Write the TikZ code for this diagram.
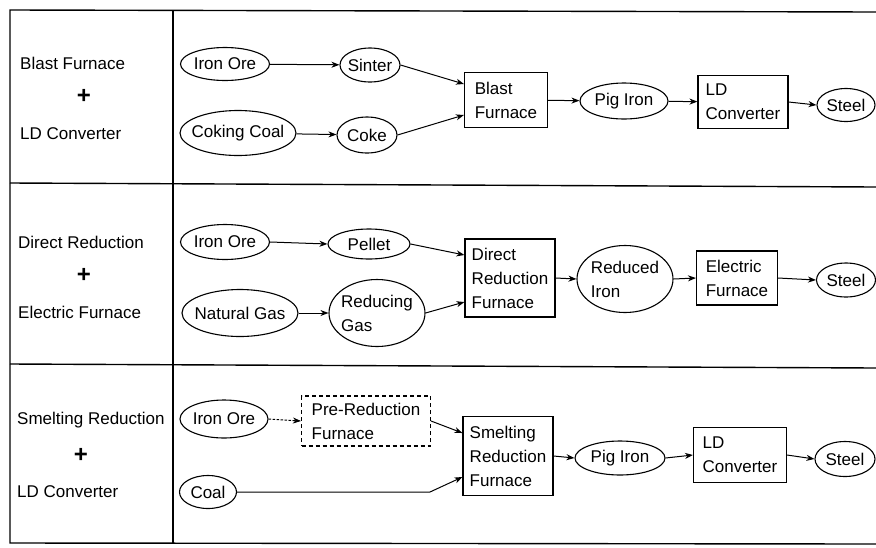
\documentclass[tikz,border=0pt]{standalone}
\usepackage{fontspec}
\setmainfont{Liberation Sans}
\usetikzlibrary{shapes.geometric,arrows.meta}
\begin{document}
\begin{tikzpicture}[x=1pt,y=-1pt,
  every node/.style={font=\fontsize{17}{24}\selectfont},
  ell/.style={ellipse,draw,line width=1.1pt,inner xsep=-8pt,inner ysep=-4pt,align=left},
  pbox/.style={rectangle,draw,line width=1.1pt,inner sep=0pt,align=left},
  dbox/.style={pbox,dashed,dash pattern=on 4pt off 3pt},
  lab/.style={anchor=west,inner sep=0pt},
  plus/.style={font=\fontsize{24}{24}\selectfont\bfseries},
  frame/.style={line width=1.4pt},
  flow/.style={line width=1pt,-{Stealth[length=8pt,width=6pt,inset=2.5pt]}},
  dflow/.style={flow,dash pattern=on 2.5pt off 1.5pt}]
\useasboundingbox (0,0) rectangle (876,547);
% frame
\coordinate (tl) at (10,10);
\coordinate (tr) at (876,12);
\coordinate (bl) at (10,543);
\coordinate (br) at (876,544);
\coordinate (dt) at (173,10);
\coordinate (db) at (173,543);
\draw[frame] (tr) -- (tl) -- (bl) -- (br);
\draw[frame] (dt) -- (db);
\coordinate (s1l) at (10,183);
\coordinate (s1r) at (876,187);
\coordinate (s2l) at (10,364);
\coordinate (s2r) at (876,368);
\draw[frame] (s1l) -- (s1r);
\draw[frame] (s2l) -- (s2r);
% left labels
\node[lab] (l1a) at (20,63) {Blast Furnace};
\node[plus] (l1b) at (84,96) {+};
\node[lab] (l1c) at (20,134) {LD Converter};
\node[lab] (l2a) at (18,242) {Direct Reduction};
\node[plus] (l2b) at (84,275) {+};
\node[lab] (l2c) at (18,312) {Electric Furnace};
\node[lab] (l3a) at (17,420) {Smelting Reduction};
\node[plus] (l3b) at (81,455) {+};
\node[lab] (l3c) at (17,492) {LD Converter};
% row 1
\node[ell,minimum width=89,minimum height=33] (io1) at (225,64) {Iron Ore};
\node[ell,minimum width=116,minimum height=45] (cc1) at (238,133) {Coking Coal};
\node[ell,minimum width=60,minimum height=34] (si1) at (370,65) {Sinter};
\node[ell,minimum width=60,minimum height=36] (co1) at (367,135) {Coke};
\node[pbox,minimum width=83,minimum height=55] (bf1) at (506,100) {Blast\\Furnace};
\node[ell,minimum width=88,minimum height=36] (pi1) at (624,101) {Pig Iron};
\node[pbox,minimum width=90,minimum height=53] (ld1) at (743,102) {LD\\Converter};
\node[ell,minimum width=58,minimum height=33] (st1) at (846,105) {Steel};
\draw[flow] (io1) -- (si1);
\draw[flow] (cc1) -- (co1);
\draw[flow] (si1.east) -- ([yshift=16pt]bf1.west);
\draw[flow] (co1.east) -- ([yshift=-15pt]bf1.west);
\draw[flow] (bf1) -- (pi1);
\draw[flow] (pi1) -- (ld1);
\draw[flow] (ld1.east) -- (st1.west);
% row 2
\node[ell,minimum width=89,minimum height=35] (io2) at (225,242) {Iron Ore};
\node[ell,minimum width=116,minimum height=47] (ng2) at (240,313) {Natural Gas};
\node[ell,minimum width=82,minimum height=30] (pe2) at (369,244) {Pellet};
\node[ell,minimum width=96,minimum height=67] (rg2) at (377,313) {Reducing\\Gas};
\node[pbox,minimum width=90,minimum height=78] (dr2) at (510,278) {Direct\\Reduction\\Furnace};
\node[ell,minimum width=96,minimum height=67] (ri2) at (625,279) {Reduced\\Iron};
\node[pbox,minimum width=81,minimum height=54] (ef2) at (737,278) {Electric\\Furnace};
\node[ell,minimum width=59,minimum height=34] (st2) at (846,280) {Steel};
\draw[flow] (io2.east) -- (pe2.west);
\draw[flow] (ng2.east) -- (rg2.west);
\draw[flow] (pe2.east) -- ([yshift=23pt]dr2.west);
\draw[flow] (rg2.east) -- ([yshift=-24pt]dr2.west);
\draw[flow] (dr2.east) -- (ri2.west);
\draw[flow] (ri2.east) -- (ef2.west);
\draw[flow] (ef2.east) -- (st2.west);
% row 3
\node[ell,minimum width=88,minimum height=38] (io3) at (224,419) {Iron Ore};
\node[ell,minimum width=57,minimum height=33] (cl3) at (208,492) {Coal};
\node[dbox,minimum width=129,minimum height=50] (pr3) at (366,421) {Pre-Reduction\\Furnace};
\node[pbox,minimum width=90,minimum height=79] (sr3) at (508,456) {Smelting\\Reduction\\Furnace};
\node[ell,minimum width=90,minimum height=34] (pi3) at (620,458) {Pig Iron};
\node[pbox,minimum width=93,minimum height=55] (ld3) at (740,455) {LD\\Converter};
\node[ell,minimum width=60,minimum height=35] (st3) at (845,459) {Steel};
\coordinate (bend) at (430,492);
\draw[dflow] (io3.east) -- (pr3.west);
\draw[flow] (pr3.east) -- ([yshift=23pt]sr3.west);
\draw[flow] (cl3.east) -- (bend) -- ([yshift=-21pt]sr3.west);
\draw[flow] (sr3.east) -- (pi3.west);
\draw[flow] (pi3.east) -- (ld3.west);
\draw[flow] (ld3.east) -- (st3.west);
\end{tikzpicture}
\end{document}
